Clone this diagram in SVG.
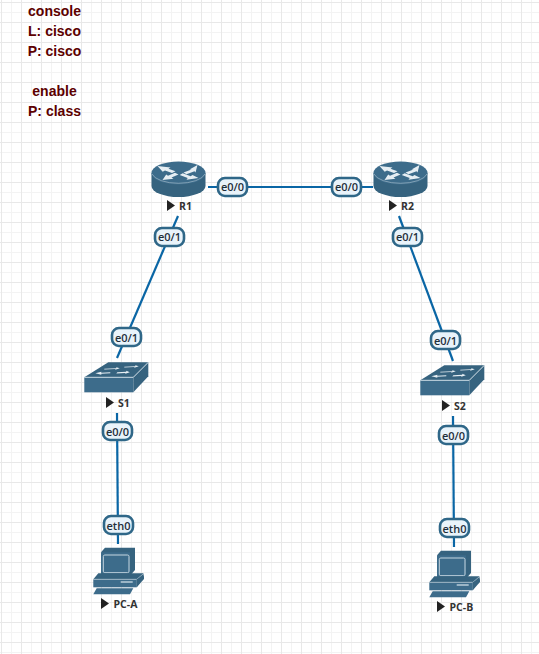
<svg xmlns="http://www.w3.org/2000/svg" width="539" height="654" viewBox="0 0 539 654">
<style>
.link{stroke:#0a66a5;stroke-width:2.2;fill:none}
.pill rect{fill:#e9f3fa;stroke:#2f6788;stroke-width:2.600}
.pill text{font:600 11px "Open Sans",sans-serif;fill:#1f2f3a;text-anchor:middle}
.name{font:700 10.500px "Open Sans",sans-serif;fill:#333}
.arrow{fill:#222}
.note{font:700 14px "Liberation Sans",Arial,sans-serif;fill:#5c0000;text-anchor:middle}
.body{fill:#3d6c8b}
.dark{fill:#36637f}
.hl{fill:none;stroke:#c6d6e0;stroke-width:1}
.w{fill:#e6eef3}
</style>
<defs>
<pattern id="grid" width="20" height="20" patternUnits="userSpaceOnUse" x="1" y="2">
<path d="M10.500 0V20M0 10.500H20" stroke="#f3f3f3" stroke-width="1" fill="none"/>
<path d="M.5 0V20M0 .5H20" stroke="#e8e8e8" stroke-width="1" fill="none"/>
</pattern>
<g id="router">
<path class="dark" d="M-27 -5V8A27 11 0 0 0 27 8V-5Z"/>
<ellipse class="body" cx="0" cy="-5" rx="27" ry="11.500"/>
<path class="hl" d="M-26.500 -4A27 11.500 0 0 0 26.500 -4" stroke-opacity=".5"/>
<path class="w" d="M-21-12l13 1.500-2 1.200 7 2.600-3.500 1.800-7-2.700-2.300 1.400zM19-13l-8 4.500 2 0-8 3 3 1.800 8-3 1 1.200zM-16 2l11-1.200-2-1.200 7-3-3.500-1.800-7 3-1.800-1.200zM20 0l-12 1.800 1.200-1.800-8-3 3-1.800 8 3 1.800-1.200z" transform="translate(0,0)"/>
</g>
<g id="switch">
<path class="dark" d="M-9-15H31L16 0H-33Z"/>
<rect class="body" x="-33" y="0" width="49" height="15"/>
<path class="dark" d="M16 0L31-15V-1L16 15Z"/>
<path class="hl" d="M-33 0H16L31-15"/>
<path class="w" d="M-13-8.500l12-.5 0-1 3.500 1-4.500 1.500 0-.7-11 .5zM7-10.500l11-.5 0-1 3.500 1-4.500 1.500 0-.7-10 .5zM-22-4l6-1.500v1l9-.5v1l-9 .5v1zM0-5l9-.5 0-1 3.500 1.500-4.500 1.500 0-.9-9 .5z"/>
</g>
<g id="pc">
<path class="dark" d="M-16.700-2.700L-12.700-7.300H17.300V15L12.300 20.700Z"/>
<rect class="body" x="-16.700" y="-2.700" width="29" height="23.400"/>
<rect x="-14.400" y="0" width="25.700" height="17.700" rx="1.500" fill="#3d6c8b" stroke="#c6d6e0"/>
<path class="dark" d="M-19.400 18.300H25.600L26.300 21.700 19 32.300V24.300H-24.400Z"/>
<rect class="body" x="-24.400" y="24.300" width="43.400" height="8"/>
<path class="hl" d="M-24.400 24.300H19L26 18.500" stroke-opacity=".6"/>
<path class="dark" d="M19 24.300L26.300 21.700V24L19 32.300Z"/>
<rect x="3" y="26" width="12" height="2" fill="#9ab5c6"/>
<path class="body" d="M-21 33.300H15.600L12.300 39.300H-24.400Z"/>
</g>
</defs>
<rect width="539" height="654" fill="#fff"/>
<rect width="539" height="654" fill="url(#grid)"/>
<g id="notes">
<text class="note" x="54.500" y="16">console</text>
<text class="note" x="54.500" y="36">L: cisco</text>
<text class="note" x="54.500" y="56">P: cisco</text>
<text class="note" x="54.500" y="96">enable</text>
<text class="note" x="54.500" y="116">P: class</text>
</g>
<g id="connectors">
<path class="link" d="M208 187H373"/>
<path class="link" d="M178 216L117 358"/>
<path class="link" d="M117 413L118 544"/>
<path class="link" d="M399 216L453 361"/>
<path class="link" d="M453 416L454 547"/>
</g>
<g id="R1"><use href="#router" x="178.500" y="178"/><path class="arrow" d="M167 200l8 5.500-8 5.500z"/><text class="name" x="179" y="209.500">R1</text></g>
<g id="R2"><use href="#router" x="400.500" y="178"/><path class="arrow" d="M389 200l8 5.500-8 5.500z"/><text class="name" x="401" y="209.500">R2</text></g>
<g id="S1"><use href="#switch" x="117.300" y="377.300"/><path class="arrow" d="M106 397l8 5.500-8 5.500z"/><text class="name" x="118" y="406.500">S1</text></g>
<g id="S2"><use href="#switch" x="453.300" y="380.300"/><path class="arrow" d="M442 400l8 5.500-8 5.500z"/><text class="name" x="454" y="410">S2</text></g>
<g id="PC-A"><use href="#pc" x="117.700" y="555"/><path class="arrow" d="M101 598l8 5.500-8 5.500z"/><text class="name" x="113.500" y="608">PC-A</text></g>
<g id="PC-B"><use href="#pc" x="453.700" y="558"/><path class="arrow" d="M437 601l8 5.500-8 5.500z"/><text class="name" x="449.500" y="611">PC-B</text></g>
<g id="labels">
<g class="pill"><rect x="218" y="178" width="29" height="18" rx="7"/><text x="232.500" y="191">e0/0</text></g>
<g class="pill"><rect x="332" y="178" width="29" height="18" rx="7"/><text x="346.500" y="191">e0/0</text></g>
<g class="pill"><rect x="155" y="228" width="29" height="18" rx="7"/><text x="169.500" y="241">e0/1</text></g>
<g class="pill"><rect x="112" y="328" width="29" height="18" rx="7"/><text x="126.500" y="342">e0/1</text></g>
<g class="pill"><rect x="103" y="422" width="29" height="18" rx="7"/><text x="117.500" y="436">e0/0</text></g>
<g class="pill"><rect x="104" y="516" width="29" height="18" rx="7"/><text x="118.500" y="530">eth0</text></g>
<g class="pill"><rect x="393" y="228" width="29" height="18" rx="7"/><text x="407.500" y="241">e0/1</text></g>
<g class="pill"><rect x="431" y="331" width="29" height="18" rx="7"/><text x="445.500" y="345">e0/1</text></g>
<g class="pill"><rect x="439" y="426" width="29" height="18" rx="7"/><text x="453.500" y="440">e0/0</text></g>
<g class="pill"><rect x="440" y="519" width="29" height="18" rx="7"/><text x="454.500" y="533">eth0</text></g>
</g>
</svg>
